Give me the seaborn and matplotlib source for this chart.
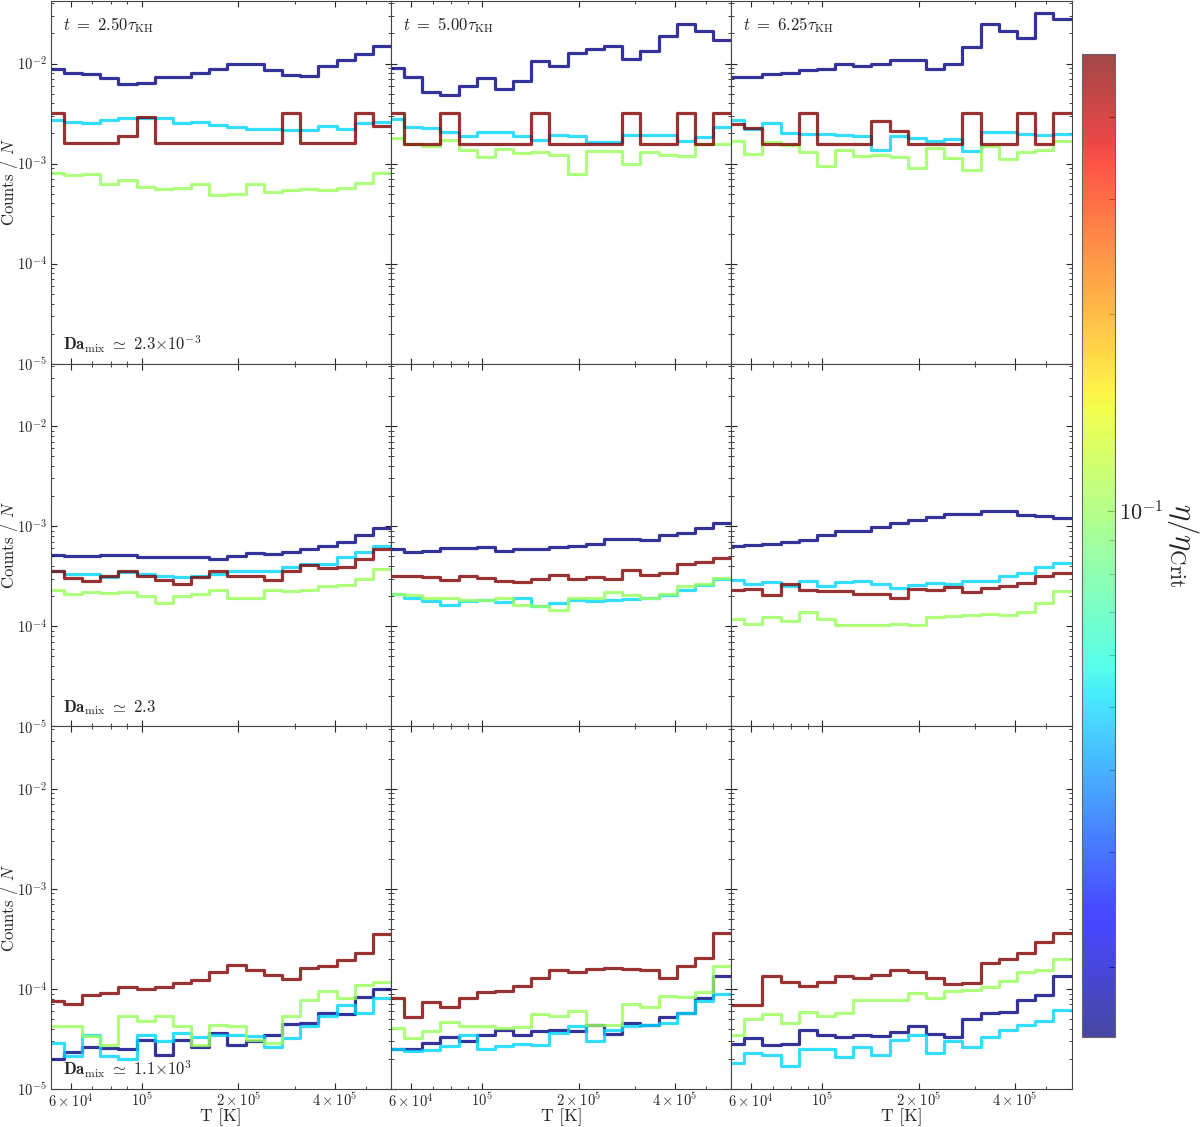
import numpy as np
import pandas as pd
import matplotlib
matplotlib.use("Agg")
import matplotlib.pyplot as plt
import matplotlib.colors as mcolors
import seaborn as sns

sns.set_style("ticks")
plt.rcParams["font.family"] = ["serif"]
plt.rcParams["font.serif"] = ["cmr10", "DejaVu Serif"]
plt.rcParams["mathtext.fontset"] = "cm"
plt.rcParams["axes.formatter.use_mathtext"] = True
plt.rcParams["xtick.direction"] = "in"
plt.rcParams["ytick.direction"] = "in"
plt.rcParams["xtick.top"] = True
plt.rcParams["ytick.right"] = True
plt.rcParams["xtick.major.size"] = 4.5
plt.rcParams["ytick.major.size"] = 4.5
plt.rcParams["xtick.minor.size"] = 2.5
plt.rcParams["ytick.minor.size"] = 2.5
plt.rcParams["axes.edgecolor"] = "#444444"

# %%
# eta / eta_crit of the four runs (colour)
eta_values = [1 / 64, 0.05, 0.1, 0.5]

times = ["2.50", "5.00", "6.25"]
da_labels = [r"2.3{\times}10^{-3}", r"2.3", r"1.1{\times}10^{3}"]

x_ticks = [6e4, 1e5, 2e5, 4e5]
x_ticklabels = [r"$6\times10^{4}$", r"$10^{5}$", r"$2\times10^{5}$", r"$4\times10^{5}$"]

# histogram bin edges in T [K]
T_edges = np.logspace(np.log10(5e4), np.log10(6e5), 20)

# --- Da_mix ~ 2.3e-3 (top row), one list per time
blue_da0 = np.array([
    [8.9, 8.1, 7.8, 7.1, 6.2, 6.4, 7.3, 7.3, 8.0, 8.9, 10.0, 9.8, 8.6, 7.7, 7.5, 9.4, 10.8, 12.5, 15.0],
    [9.1, 7.4, 5.2, 4.9, 5.9, 7.1, 5.6, 6.7, 10.7, 9.5, 12.8, 14.1, 15.1, 11.2, 13.3, 18.8, 24.6, 21.0, 17.3],
    [7.4, 7.3, 7.8, 8.0, 8.6, 8.9, 9.8, 9.4, 9.8, 10.8, 10.8, 8.8, 10.0, 14.6, 25.0, 21.1, 18.1, 32.0, 27.6],
]) * 1e-3
cyan_da0 = np.array([
    [2.73, 2.63, 2.54, 2.73, 2.84, 2.88, 2.88, 2.54, 2.6, 2.45, 2.3, 2.23, 2.23, 2.18, 2.18, 2.35, 2.23, 2.54, 2.63],
    [2.8, 2.33, 2.26, 2.06, 1.88, 2.06, 2.05, 1.87, 1.73, 1.94, 1.9, 1.64, 1.64, 1.94, 1.94, 1.94, 1.67, 1.84, 2.3],
    [2.73, 2.22, 2.54, 2.02, 1.97, 1.97, 1.94, 1.9, 1.36, 1.87, 1.8, 1.69, 1.77, 1.35, 2.05, 2.05, 1.97, 1.94, 1.97],
]) * 1e-3
green_da0 = np.array([
    [0.81, 0.77, 0.78, 0.62, 0.68, 0.59, 0.56, 0.57, 0.62, 0.49, 0.50, 0.62, 0.52, 0.54, 0.56, 0.55, 0.57, 0.64, 0.81],
    [1.8, 1.57, 1.49, 1.73, 1.38, 1.16, 1.41, 1.28, 1.31, 1.23, 0.78, 1.34, 1.34, 1.0, 1.31, 1.23, 1.18, 1.57, 1.57],
    [1.67, 1.25, 1.64, 1.54, 1.31, 0.94, 1.38, 1.2, 1.21, 1.17, 0.91, 1.43, 1.15, 0.87, 1.49, 1.1, 1.31, 1.38, 1.67],
]) * 1e-3
red_da0 = np.array([
    [3.2, 1.6, 1.6, 1.6, 1.9, 2.9, 1.6, 1.6, 1.6, 1.6, 1.6, 1.6, 1.6, 3.2, 1.6, 1.6, 1.6, 3.2, 2.4],
    [3.2, 1.57, 1.57, 3.2, 1.57, 1.57, 1.57, 1.57, 3.2, 1.57, 1.57, 1.57, 1.57, 3.2, 1.57, 1.57, 3.2, 1.57, 3.2],
    [2.47, 2.26, 1.57, 1.57, 3.2, 1.57, 1.57, 1.57, 2.68, 2.1, 1.57, 1.57, 1.57, 3.2, 1.57, 1.57, 3.2, 1.57, 3.2],
]) * 1e-3

# --- Da_mix ~ 2.3 (middle row)
blue_da1 = np.array([
    [5.2, 5.0, 5.0, 5.1, 5.1, 4.9, 4.9, 4.9, 4.9, 4.7, 5.0, 5.4, 5.3, 5.5, 5.9, 6.4, 7.0, 8.1, 9.6],
    [5.86, 5.5, 5.6, 6.05, 6.1, 6.2, 5.7, 5.9, 5.86, 6.2, 6.4, 6.7, 7.37, 7.5, 7.2, 8.1, 8.6, 9.6, 10.7],
    [6.4, 6.5, 6.67, 6.9, 7.2, 8.1, 8.9, 8.9, 9.8, 10.8, 11.6, 12.3, 13.3, 13.3, 14.1, 14.3, 12.8, 12.6, 12.0],
]) * 1e-4
cyan_da1 = np.array([
    [3.55, 3.36, 3.3, 3.1, 3.5, 3.3, 3.2, 3.1, 3.2, 3.36, 3.6, 3.55, 3.6, 3.9, 4.2, 4.2, 4.9, 5.5, 6.3],
    [2.1, 1.93, 1.78, 1.63, 1.8, 1.85, 1.76, 1.9, 1.6, 1.72, 1.83, 1.78, 1.85, 1.87, 1.94, 2.05, 2.33, 2.57, 2.95],
    [2.93, 2.63, 2.74, 2.54, 2.82, 2.54, 2.74, 2.82, 2.63, 2.42, 2.57, 2.72, 2.63, 2.82, 2.82, 3.16, 3.4, 3.9, 4.3],
]) * 1e-4
green_da1 = np.array([
    [2.33, 2.12, 2.2, 2.16, 2.2, 2.0, 1.72, 2.0, 2.08, 2.3, 1.93, 1.94, 2.3, 2.25, 2.33, 2.54, 2.57, 2.95, 3.7],
    [2.08, 2.05, 1.93, 1.9, 1.83, 1.83, 1.9, 1.63, 1.6, 1.45, 1.94, 1.93, 2.18, 2.05, 1.93, 2.12, 2.5, 2.63, 3.04],
    [1.18, 1.06, 1.23, 1.14, 1.4, 1.18, 1.02, 1.03, 1.02, 1.05, 1.02, 1.23, 1.28, 1.29, 1.32, 1.31, 1.4, 1.72, 2.26],
]) * 1e-4
red_da1 = np.array([
    [3.57, 3.06, 2.84, 3.16, 3.57, 3.2, 2.9, 2.64, 3.1, 3.57, 3.2, 3.16, 2.9, 3.57, 4.06, 3.86, 3.9, 4.67, 5.86],
    [3.19, 3.16, 3.1, 2.9, 3.19, 3.06, 2.84, 2.74, 3.0, 3.23, 2.95, 3.1, 3.0, 3.68, 3.23, 3.44, 4.2, 4.4, 4.85],
    [2.33, 2.35, 2.05, 2.63, 2.33, 2.25, 2.27, 2.1, 2.1, 1.94, 2.38, 2.33, 2.47, 2.18, 2.44, 2.54, 2.72, 3.19, 3.44],
]) * 1e-4

# --- Da_mix ~ 1.1e3 (bottom row)
blue_da2 = np.array([
    [1.99, 2.35, 2.63, 2.55, 2.5, 3.08, 2.2, 3.1, 2.63, 3.6, 2.75, 3.0, 3.5, 4.43, 4.6, 5.77, 5.65, 8.3, 10.0],
    [2.54, 2.5, 2.9, 3.3, 3.0, 3.5, 3.9, 3.5, 3.8, 3.9, 3.8, 4.4, 3.58, 4.6, 4.4, 5.2, 5.7, 8.1, 13.6],
    [2.8, 3.2, 2.75, 2.8, 3.9, 3.5, 3.3, 3.5, 3.4, 3.75, 4.26, 3.58, 3.3, 4.96, 5.7, 5.9, 7.8, 8.6, 13.4],
]) * 1e-5
cyan_da2 = np.array([
    [2.9, 2.15, 3.5, 2.15, 2.0, 3.5, 3.0, 3.65, 3.3, 3.45, 3.5, 3.4, 2.6, 3.2, 4.3, 5.4, 6.9, 5.7, 8.1],
    [2.5, 2.4, 2.45, 2.7, 3.45, 2.5, 2.7, 2.8, 2.75, 3.6, 4.26, 3.0, 3.9, 4.26, 4.4, 4.6, 5.7, 7.5, 8.8],
    [1.8, 2.3, 2.2, 1.7, 2.5, 2.5, 2.1, 2.6, 2.2, 3.1, 3.5, 2.27, 3.0, 2.63, 3.3, 3.9, 4.4, 4.8, 6.2],
]) * 1e-5
green_da2 = np.array([
    [4.3, 4.3, 3.4, 2.75, 5.4, 4.8, 5.35, 4.3, 2.75, 4.4, 4.3, 3.1, 2.9, 5.4, 7.8, 9.6, 8.1, 11.0, 11.6],
    [4.1, 3.2, 3.8, 4.67, 4.3, 4.3, 4.1, 4.2, 5.6, 5.35, 6.0, 4.4, 4.4, 7.15, 6.6, 8.45, 8.3, 9.3, 17.0],
    [3.5, 4.96, 5.6, 4.6, 5.9, 5.35, 5.8, 7.8, 7.7, 7.7, 9.1, 8.1, 9.5, 9.8, 10.4, 11.9, 14.6, 15.6, 20.0],
]) * 1e-5
red_da2 = np.array([
    [7.66, 7.1, 8.7, 9.1, 10.4, 10.0, 10.4, 11.5, 12.4, 14.7, 17.2, 15.6, 13.7, 12.7, 16.2, 17.0, 19.3, 22.7, 35.4],
    [8.1, 5.2, 7.4, 6.6, 8.1, 9.3, 9.6, 10.6, 13.0, 15.6, 14.7, 15.9, 16.2, 15.9, 15.6, 13.0, 16.8, 20.3, 36.0],
    [6.9, 6.9, 13.6, 11.7, 10.6, 11.7, 13.4, 12.9, 13.7, 15.3, 14.6, 12.9, 11.3, 11.5, 18.1, 20.0, 23.1, 29.3, 36.0],
]) * 1e-5

rows = [
    [blue_da0, cyan_da0, green_da0, red_da0],
    [blue_da1, cyan_da1, green_da1, red_da1],
    [blue_da2, cyan_da2, green_da2, red_da2],
]

# %%
T_mid = np.sqrt(T_edges[:-1] * T_edges[1:])
cmap = plt.get_cmap("jet")
norm = mcolors.LogNorm(vmin=min(eta_values), vmax=max(eta_values))

fig, axes = plt.subplots(3, 3, figsize=(12, 11.27), dpi=100, sharex=True, sharey=True)
fig.subplots_adjust(left=0.0425, right=0.893, bottom=0.0337, top=0.999, wspace=0, hspace=0)

for r, series in enumerate(rows):
    for c in range(3):
        ax = axes[r, c]
        for eta, counts in zip(eta_values, series):
            hist_df = pd.DataFrame({"T": T_mid, "frac": counts[c]})
            sns.histplot(
                data=hist_df,
                x="T",
                weights="frac",
                bins=list(T_edges),
                element="step",
                fill=False,
                color=cmap(norm(eta)),
                linewidth=2.3,
                alpha=0.8,
                ax=ax,
            )

for r in range(3):
    for c in range(3):
        ax = axes[r, c]
        ax.set_xscale("log")
        ax.set_yscale("log")
        ax.set_xlim(5.2e4, 6e5)
        ax.set_ylim(1e-5, 4.2e-2)
        ax.set_xlabel("")
        ax.set_ylabel("")
        ax.tick_params(which="both", direction="in", top=True, right=True, labelsize=10.5)
        ax.tick_params(axis="y", pad=3)
        ax.tick_params(axis="x", pad=2)
        if r == 0:
            ax.text(0.035, 0.935, r"$t\ =\ \mathbf{" + times[c] + r"}\tau_{\rm KH}$",
                    transform=ax.transAxes, fontsize=12, va="center")
        if c == 0:
            ax.text(0.035, 0.025, r"$\mathbf{Da}_{\rm mix}\ \simeq\ \mathbf{" + da_labels[r] + "}$",
                    transform=ax.transAxes, fontsize=12, va="bottom")
            ax.set_ylabel(r"Counts / $N$", fontsize=12)
            ax.yaxis.set_label_coords(-0.092, 0.5)
        else:
            ax.tick_params(labelleft=False)
        if r == 2:
            ax.set_xlabel("T [K]", fontsize=12.5, labelpad=-1)
        else:
            ax.tick_params(labelbottom=False)

axes[2, 0].set_xticks(x_ticks)
axes[2, 0].set_xticklabels(x_ticklabels)
axes[2, 0].set_xlim(5.2e4, 6e5)

sm = plt.cm.ScalarMappable(norm=norm, cmap=cmap)
cax = fig.add_axes([0.9017, 0.0799, 0.0275, 0.872])
cb = fig.colorbar(sm, cax=cax, alpha=0.72)
cb.outline.set_edgecolor("#666666")
cb.ax.tick_params(which="both", direction="in", labelsize=16, pad=3)
cb.ax.tick_params(which="major", length=6)
cb.ax.tick_params(which="minor", length=4)
cb.set_label(r"$\eta/\eta_{\rm Crit}$", rotation=270, fontsize=22, labelpad=27)

plt.savefig("out.png", dpi=100)
